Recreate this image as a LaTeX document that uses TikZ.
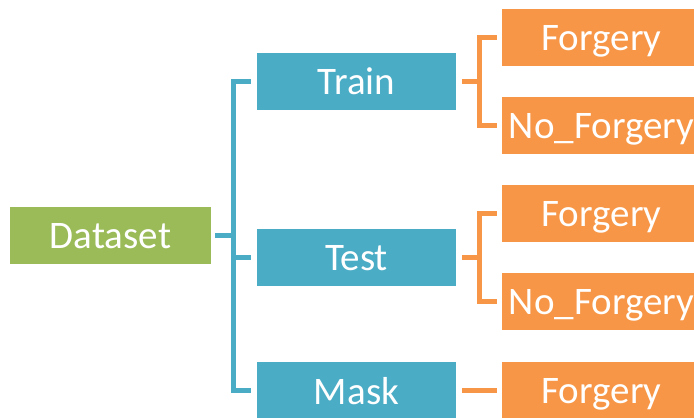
\documentclass[tikz,border=0pt]{standalone}
\usepackage{fontspec}
\setmainfont{Carlito}
\definecolor{setgreen}{HTML}{9BBB59}
\definecolor{splitblue}{HTML}{4BACC6}
\definecolor{classorange}{HTML}{F79646}
\tikzset{
  box/.style={minimum width=199pt, minimum height=57pt, inner sep=0pt, text=white,
    text depth=0pt, font=\fontsize{39}{41}\selectfont},
  bluelink/.style={draw=splitblue, line width=5pt},
  orangelink/.style={draw=classorange, line width=5pt}
}
\begin{document}
\begin{tikzpicture}[x=1pt, y=-1pt]
  \useasboundingbox (0, 0) rectangle (694, 418);
  \clip (0, 0) rectangle (694, 418);

  \node (data) at (110.5, 235.5) [box, fill=setgreen, minimum width=201pt] {Dataset};
  \node (train) at (356.5, 81.5) [box, fill=splitblue] {Train};
  \node (test) at (356.5, 257.5) [box, fill=splitblue] {Test};
  \node (mask) at (356.5, 390.5) [box, fill=splitblue] {Mask};

  \node (trainF) at (601.5, 37.5) [box, fill=classorange] {Forgery};
  \node (trainN) at (601.5, 125.5) [box, fill=classorange] {No\_Forgery};
  \node (testF) at (601.5, 213.5) [box, fill=classorange] {Forgery};
  \node (testN) at (601.5, 301.5) [box, fill=classorange] {No\_Forgery};
  \node (maskF) at (601.5, 390.5) [box, fill=classorange] {Forgery};

  \coordinate (bus) at (233.5, 0);
  \coordinate (obus) at (479.5, 0);

  % dataset to splits
  \draw[bluelink] ([xshift=4pt]data.east) -- (data.east -| bus);
  \draw[bluelink] ([xshift=-6pt]train.west) -| (bus |- mask.west) -- ([xshift=-6pt]mask.west);
  \draw[bluelink] ([xshift=-6pt]test.west) -- (bus |- test.west);

  % splits to classes
  \draw[orangelink] ([xshift=6pt]train.east) -- (train.east -| obus);
  \draw[orangelink] ([xshift=-5pt]trainF.west) -| (obus |- trainN.west) -- ([xshift=-5pt]trainN.west);
  \draw[orangelink] ([xshift=6pt]test.east) -- (test.east -| obus);
  \draw[orangelink] ([xshift=-5pt]testF.west) -| (obus |- testN.west) -- ([xshift=-5pt]testN.west);
  \draw[orangelink] ([xshift=6pt]mask.east) -- ([xshift=-5pt]maskF.west);
\end{tikzpicture}
\end{document}
